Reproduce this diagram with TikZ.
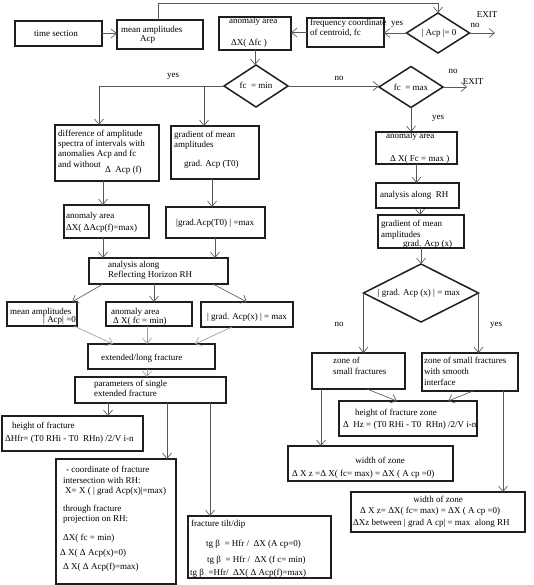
\documentclass[tikz,border=0pt]{standalone}
\usepackage{fontspec}
\setmainfont{Liberation Serif}
\usetikzlibrary{shapes.geometric,arrows.meta}
\newcommand\mkbx[6][]{\node[bx,#1,minimum width={#4-#2},minimum height={#5-#3}] (#6) at ({(#2+#4)/2},{(#3+#5)/2}) {};}
\begin{document}
\begin{tikzpicture}[x=1pt,y=-1pt, font=\fontsize{9}{10}\selectfont,
 bx/.style={draw=black!88, line width=1.6pt, inner sep=0, outer sep=0},
 bxk/.style={line width=2.1pt},
 dm/.style={diamond, draw=black!88, line width=1.5pt, inner sep=0, outer sep=0},
 ar/.style={draw=black!65, line width=0.65pt, -{Straight Barb[length=5.5pt,width=9pt]}},
 arg/.style={ar, draw=black!38},
 ln/.style={draw=black!65, line width=0.65pt},
 t/.style={anchor=base west, inner sep=0},
 tc/.style={anchor=base, inner sep=0}]
\useasboundingbox (0,0) rectangle (533,585);
\fill[white] (0,0) rectangle (533,585);
% ---------- boxes ----------
\mkbx[bxk]{15}{21}{102}{46}{ts}
\mkbx[bxk]{117}{20}{203}{49}{ma}
\mkbx[bxk]{219}{17}{291}{50}{aa}
\mkbx[bxk]{307}{18}{384}{47}{fq}
\node[dm, minimum width=63, minimum height=40] (d0) at (438,33) {};
\node[dm, minimum width=64, minimum height=42] (d1) at (256,86) {};
\node[dm, minimum width=64, minimum height=41] (d2) at (411,87) {};
\mkbx{376}{132}{457}{164}{aa2}
\mkbx{376}{183}{459}{208}{an2}
\mkbx{378}{215}{464}{248}{gr2}
\node[dm, minimum width=115, minimum height=58] (d3) at (421,293) {};
\mkbx{312}{353}{405}{389}{zs}
\mkbx{422}{353}{518}{391}{zw}
\mkbx{339}{401}{477}{436}{hz}
\mkbx{288}{446}{453}{481}{wz1}
\mkbx{351}{492}{525}{532}{wz2}
\mkbx{55}{125}{159}{181}{diff}
\mkbx{171}{126}{259}{179}{grad}
\mkbx{64}{205}{149}{238}{aa1}
\mkbx{166}{207}{265}{238}{gm}
\mkbx{89}{258}{228}{284}{an1}
\mkbx{7}{302}{77}{326}{ma0}
\mkbx{106}{302}{192}{326}{af}
\mkbx{201}{302}{293}{327}{gx}
\mkbx{88}{344}{215}{369}{ext}
\mkbx{75}{377}{226}{403}{pr}
\mkbx{2}{416}{143}{451}{hf}
\mkbx{56}{459}{176}{584}{cb}
\mkbx{188}{516}{331}{578}{ft}
% ---------- helper coordinates ----------
\coordinate (c0) at (438,3);
\coordinate (ex0) at (495,33);
\coordinate (ex1) at (467,87);
\coordinate (j1) at (99,86);
\coordinate (j2) at (204,86);
% ---------- connectors ----------
\draw[ar] (ts.east) -- (ts.east -| ma.west);
\draw[ar] ([xshift=-2pt]ma.north) |- (c0) -- (d0.north);
\draw[ar] (d0.west) -- (d0.west -| fq.east);
\draw[ar] (fq.west) -- (fq.west -| aa.east);
\draw[ar] (d0.east) -- (ex0);
\draw[ar] (aa.south) -- (aa.south |- d1.north);
\draw[ln] (d1.west) -- (j1);
\draw[ar] (j1) -- (j1 |- diff.north);
\draw[ar] (j2) -- (j2 |- grad.north);
\draw[ar] (d1.east) -- (d1.east -| d2.west);
\draw[ar] (d2.east) -- (ex1);
\draw[ar] (d2.south) -- (d2.south |- aa2.north);
\draw[ar] (aa2.south) -- (aa2.south |- an2.north);
\draw[ar] ([xshift=2.5pt]an2.south) -- ([xshift=2.5pt]an2.south |- gr2.north);
\draw[ar] (gr2.south) -- (d3.north);
\draw[ar] (d3.west) -- (d3.west |- zs.north);
\draw[ar] (d3.east) -- (d3.east |- zw.north);
\draw[ar] ([xshift=8.5pt]zs.south) -- ([xshift=-11pt]hz.north);
\draw[ar] ([xshift=3pt]zw.south) -- ([xshift=40pt]hz.north);
\draw[ar] ([xshift=-37.5pt]zs.south) -- ([xshift=-37.5pt]zs.south |- wz1.north);
\draw[ar] ([xshift=33pt]zw.south) -- ([xshift=33pt]zw.south |- wz2.north);
\draw[ar] ([xshift=-4pt]diff.south) -- ([xshift=-4pt]diff.south |- aa1.north);
\draw[ar] ([xshift=-3pt]grad.south) -- ([xshift=-3pt]grad.south |- gm.north);
\draw[ar] ([xshift=-3.5pt]aa1.south) -- ([xshift=-3.5pt]aa1.south |- an1.north);
\draw[ar] ([xshift=-0.5pt]gm.south) -- ([xshift=-0.5pt]gm.south |- an1.north);
\draw[ar] ([xshift=-55.5pt]an1.south) -- ([xshift=-5pt]ma0.north east);
\draw[ar] ([xshift=-4.5pt]an1.south) -- ([xshift=-4.5pt]an1.south |- af.north);
\draw[ar] ([xshift=54.5pt]an1.south) -- (gx.north);
\draw[arg] ([xshift=-3pt]ma0.south east) -- ([xshift=-38.5pt]ext.north);
\draw[arg] ([xshift=-2pt]af.south) -- ([xshift=-2pt]af.south |- ext.north);
\draw[arg] ([xshift=-15pt]gx.south) -- ([xshift=43.5pt]ext.north);
\draw[arg] ([xshift=-4.5pt]ext.south) -- ([xshift=-4.5pt]ext.south |- pr.north);
\draw[ar] ([xshift=-42.5pt]pr.south) -- ([xshift=-42.5pt]pr.south |- hf.north);
\draw[ar] ([xshift=16.5pt]pr.south) -- ([xshift=16.5pt]pr.south |- cb.north);
\draw[ar] ([xshift=59.5pt]pr.south) -- ([xshift=59.5pt]pr.south |- ft.north);
% ---------- texts: top ----------
\node[tc] (ts-t) at (56,36.5) {time section};
\node[t] (ma-t1) at (121,33) {mean amplitudes};
\node[t] (ma-t2) at (140,41.5) {Acp};
\node[t] (aa-t1) at (229,24) {anomaly area};
\node[t] (aa-t2) at (231,46) {ΔX( Δfc )};
\node[t] (fq-t1) at (310,26) {frequency coordinate};
\node[t] (fq-t2) at (310,36) {of centroid, fc};
\node[tc] (d0-t) at (439,36) {| Acp |= 0};
\node[tc] (y0) at (397,26) {yes};
\node[tc] (x0) at (487,18) {EXIT};
\node[tc] (n0) at (475,28) {no};
\node[tc] (d1-t) at (256,89) {fc\ \ = min};
\node[tc] (y1) at (173,78) {yes};
\node[tc] (n1) at (339,81) {no};
\node[tc] (d2-t) at (411,91) {fc\ \ = max};
\node[tc] (n2) at (453,74) {no};
\node[tc] (x1) at (473,85) {EXIT};
\node[tc] (y2) at (438,120) {yes};
% ---------- texts: right ----------
\node[t] (aa2-t1) at (386,139) {anomaly area};
\node[t] (aa2-t2) at (390,162) {Δ X( Fc = max )};
\node[t] (an2-t) at (380,197) {analysis along\ \ RH};
\node[t] (gr2-t1) at (381,226) {gradient of mean};
\node[t] (gr2-t2) at (381,237) {amplitudes};
\node[t] (gr2-t3) at (403,246) {grad. Acp (x)};
\node[tc] (d3-t) at (419,295) {| grad. Acp (x) | = max};
\node[tc] (n3) at (339,326) {no};
\node[tc] (y3) at (496,326) {yes};
\node[t] (zs-t1) at (333,363) {zone of};
\node[t] (zs-t2) at (333,374) {small fractures};
\node[t] (zw-t1) at (424,363) {zone of small fractures};
\node[t] (zw-t2) at (424,374) {with smooth};
\node[t] (zw-t3) at (424,385) {interface};
\node[t] (hz-t1) at (355,415) {height of fracture zone};
\node[t] (hz-t2) at (343,427) {Δ\ \ Hz = (T0 RHi - T0\ \ RHn) /2/V i-n};
\node[tc] (wz1-t1) at (380,463) {width of zone};
\node[t] (wz1-t2) at (292,476) {Δ X z =Δ X( fc= max) = ΔX ( A cp =0)};
\node[tc] (wz2-t1) at (438,502) {width of zone};
\node[t] (wz2-t2) at (360,513) {Δ X z= ΔX( fc= max) = ΔX ( A cp =0)};
\node[t] (wz2-t3) at (353,525) {ΔXz between | grad A cp| = max\ \ along RH};
% ---------- texts: left ----------
\node[t] (diff-t1) at (58,137) {difference of amplitude};
\node[t] (diff-t2) at (58,147) {spectra of intervals with};
\node[t] (diff-t3) at (58,157) {anomalies Acp and fc};
\node[t] (diff-t4) at (58,168) {and without};
\node[t] (diff-t5) at (105,173) {Δ\ \ Acp (f)};
\node[t] (grad-t1) at (174,138) {gradient of mean};
\node[t] (grad-t2) at (174,148) {amplitudes};
\node[t] (grad-t3) at (184,167) {grad. Acp (T0)};
\node[t] (aa1-t1) at (66,218) {anomaly area};
\node[t] (aa1-t2) at (66,230) {ΔX( ΔAcp(f)=max)};
\node[t] (gm-t) at (176,225) {|grad.Acp(T0) | =max};
\node[t] (an1-t1) at (108,267) {analysis along};
\node[t] (an1-t2) at (108,277) {Reflecting Horizon RH};
\node[t] (ma0-t1) at (10,314) {mean amplitudes};
\node[t] (ma0-t2) at (43,322) {| Acp| =0};
\node[t] (af-t1) at (111,314) {anomaly area};
\node[t] (af-t2) at (113,323) {Δ X( fc = min)};
\node[tc] (gx-t) at (247,319) {| grad. Acp(x) | = max};
\node[t] (ext-t) at (101,360) {extended/long fracture};
\node[t] (pr-t1) at (94,386) {parameters of single};
\node[t] (pr-t2) at (94,396) {extended fracture};
\node[t] (hf-t1) at (12,428) {height of fracture};
\node[t] (hf-t2) at (5,441) {ΔHfr= (T0 RHi - T0\ \ RHn) /2/V i-n};
\node[t] (cb-t1) at (66,472) {- coordinate of fracture};
\node[t] (cb-t2) at (63,483) {intersection with RH:};
\node[t] (cb-t3) at (65,493) {X= X ( | grad Acp(x)|=max)};
\node[t] (cb-t4) at (63,511) {through fracture};
\node[t] (cb-t5) at (63,521) {projection on RH:};
\node[t] (cb-t6) at (63,540) {ΔX( fc = min)};
\node[t] (cb-t7) at (60,555) {Δ X( Δ Acp(x)=0)};
\node[t] (cb-t8) at (63,569) {Δ X( Δ Acp(f)=max)};
\node[t] (ft-t1) at (191,526) {fracture tilt/dip};
\node[t] (ft-t2) at (206,546) {tg β\ \ = Hfr /\ \ ΔX (A cp=0)};
\node[t] (ft-t3) at (207,562) {tg β\ \ = Hfr /\ \ ΔX (f c= min)};
\node[t] (ft-t4) at (190,575) {tg β\ \ =Hfr/\ \ ΔX( Δ Acp(f)=max)};
\end{tikzpicture}
\end{document}
